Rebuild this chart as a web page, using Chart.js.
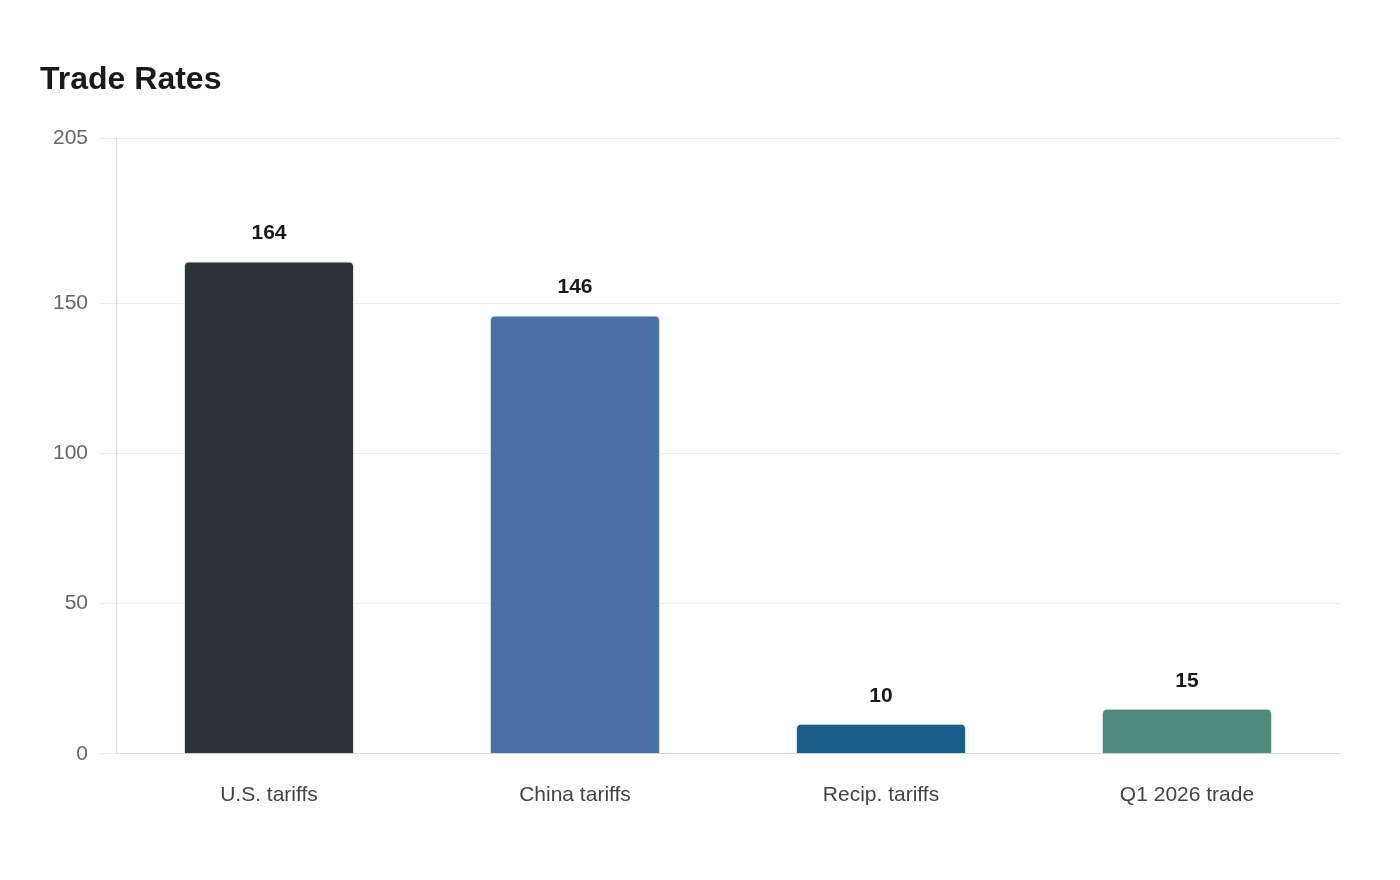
<!DOCTYPE html>
<html>
<head>
<meta charset="utf-8">
<script src="https://cdn.jsdelivr.net/npm/chart.js@4.4.1/dist/chart.umd.min.js"></script>
<style>
  html, body { margin: 0; padding: 0; background: #ffffff; }
  #wrap { width: 1400px; height: 880px; position: relative; }
</style>
</head>
<body>
<div id="wrap"><canvas id="c" width="1400" height="880"></canvas></div>
<script>
const titleText = "Trade Rates";
const categories = ["U.S. tariffs", "China tariffs", "Recip. tariffs", "Q1 2026 trade"];
const values = [164, 146, 10, 15];
const barColors = ["#2d3436", "#4a6fa5", "#1a6088", "#4e8c7a"];
const yTicks = [0, 50, 100, 150, 205];

const valueLabels = {
  id: "valueLabels",
  afterDatasetsDraw(chart) {
    const ctx = chart.ctx;
    const meta = chart.getDatasetMeta(0);
    ctx.save();
    ctx.font = "bold 21px 'Liberation Sans', Arial, sans-serif";
    ctx.fillStyle = "#1a1a1a";
    ctx.textAlign = "center";
    ctx.textBaseline = "middle";
    meta.data.forEach((bar, i) => {
      ctx.fillText(String(values[i]), bar.x, bar.y - 28);
    });
    ctx.restore();
  }
};

new Chart(document.getElementById("c"), {
  type: "bar",
  data: {
    labels: categories,
    datasets: [{
      data: values,
      backgroundColor: barColors,
      borderColor: "rgba(190,200,215,0.55)",
      borderWidth: 1,
      borderSkipped: "start",
      borderRadius: { topLeft: 5, topRight: 5, bottomLeft: 0, bottomRight: 0 },
      barPercentage: 1,
      categoryPercentage: 0.5556
    }]
  },
  options: {
    responsive: false,
    animation: false,
    devicePixelRatio: 1,
    layout: { padding: { left: 40, right: 60, top: 0, bottom: 43 } },
    plugins: {
      legend: { display: false },
      tooltip: { enabled: false },
      title: {
        display: true,
        text: titleText,
        align: "start",
        color: "#1a1a1a",
        font: { family: "'Liberation Sans', Arial, sans-serif", size: 32, weight: "bold", lineHeight: 1.2 },
        padding: { top: 61, bottom: 39 }
      }
    },
    scales: {
      x: {
        grid: { display: false, drawTicks: false },
        border: { display: true, color: "#d9d9d9", width: 1 },
        ticks: {
          color: "#444444",
          padding: 29,
          font: { family: "'Liberation Sans', Arial, sans-serif", size: 21 }
        }
      },
      y: {
        min: 0,
        max: 205,
        afterFit(scale) { scale.width = 76; },
        afterBuildTicks(scale) { scale.ticks = yTicks.map(v => ({ value: v })); },
        grid: { color: "#ececec", lineWidth: 1, tickLength: 16 },
        border: { display: true, color: "#dedede", width: 1 },
        ticks: {
          color: "#666666",
          padding: 12,
          font: { family: "'Liberation Sans', Arial, sans-serif", size: 21 }
        }
      }
    }
  },
  plugins: [valueLabels]
});
</script>
</body>
</html>
